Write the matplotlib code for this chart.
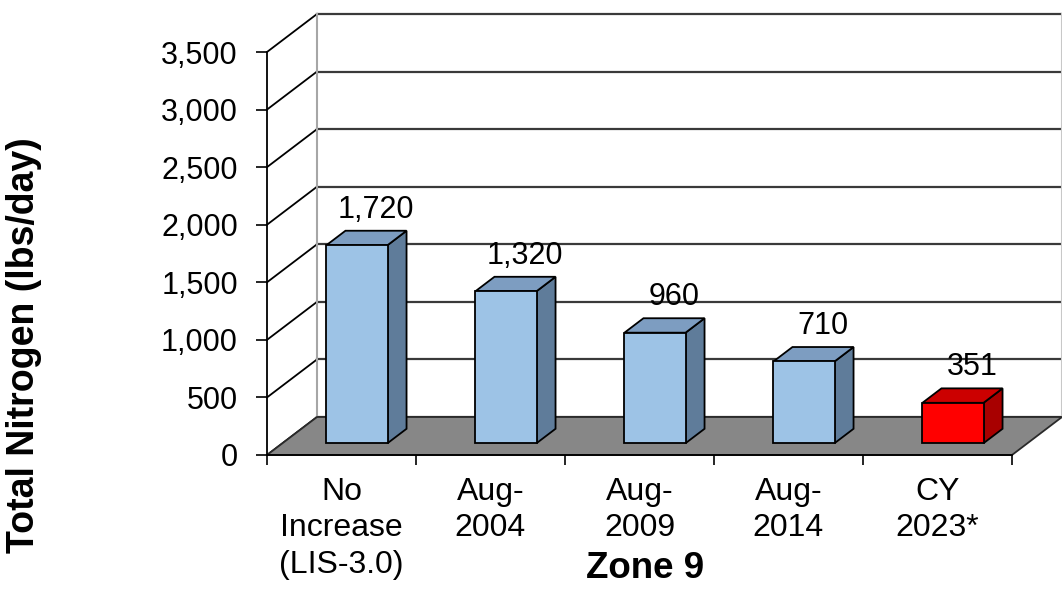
import matplotlib.pyplot as plt
from matplotlib.patches import Polygon

plt.rcParams['font.family'] = ['Liberation Sans', 'DejaVu Sans']

# data
categories = ['No\nIncrease\n(LIS-3.0)', 'Aug-\n2004', 'Aug-\n2009', 'Aug-\n2014', 'CY\n2023*']
values = [1720, 1320, 960, 710, 351]
value_labels = ['1,720', '1,320', '960', '710', '351']
y_ticks = [0, 500, 1000, 1500, 2000, 2500, 3000, 3500]

front_colors = ['#9DC3E6', '#9DC3E6', '#9DC3E6', '#9DC3E6', '#FF0000']
side_colors = ['#5F7C9A', '#5F7C9A', '#5F7C9A', '#5F7C9A', '#A80000']
top_colors = ['#7D9DC1', '#7D9DC1', '#7D9DC1', '#7D9DC1', '#CC0000']

W, H = 1062, 592
fig = plt.figure(figsize=(W / 100, H / 100), dpi=100)
ax = fig.add_axes([267 / W, 137 / H, 745 / W, 403 / H])
ax.set_xlim(0, 5)
ax.set_ylim(0, 3500)

# oblique depth offset (x in category units, y in value units)
DX = 50 / 149
DY = 38 / 403 * 3500
D0, D1 = 0.31, 0.69   # bar front / back depth
HALF = 0.205          # half bar width

# back wall and side wall gridlines
for v in y_ticks:
    ax.plot([DX, 5 + DX], [v + DY, v + DY], color='#3a3a3a', lw=1.6, clip_on=False, zorder=1)
    ax.plot([0, DX], [v, v + DY], color='black', lw=1.3, clip_on=False, zorder=1)
ax.plot([DX, DX], [DY, 3500 + DY], color='#a6a6a6', lw=1.5, clip_on=False, zorder=1)
ax.plot([5 + DX, 5 + DX], [DY, 3500 + DY], color='#c8c8c8', lw=1.5, clip_on=False, zorder=1)

# floor
floor = Polygon([(0, 0), (5, 0), (5 + DX, DY), (DX, DY)], closed=True,
                facecolor='#878787', edgecolor='#2a2a2a', lw=1.3, clip_on=False, zorder=1.5)
ax.add_patch(floor)

# bars
for i, v in enumerate(values):
    xc = i + 0.5
    xl, xr = xc - HALF, xc + HALF
    front = [(xl + D0 * DX, D0 * DY), (xr + D0 * DX, D0 * DY),
             (xr + D0 * DX, v + D0 * DY), (xl + D0 * DX, v + D0 * DY)]
    side = [(xr + D0 * DX, D0 * DY), (xr + D1 * DX, D1 * DY),
            (xr + D1 * DX, v + D1 * DY), (xr + D0 * DX, v + D0 * DY)]
    top = [(xl + D0 * DX, v + D0 * DY), (xr + D0 * DX, v + D0 * DY),
           (xr + D1 * DX, v + D1 * DY), (xl + D1 * DX, v + D1 * DY)]
    for pts, c in [(side, side_colors[i]), (top, top_colors[i]), (front, front_colors[i])]:
        ax.add_patch(Polygon(pts, closed=True, facecolor=c, edgecolor='black',
                             lw=1.3, joinstyle='miter', clip_on=False, zorder=3))
    ax.annotate(value_labels[i], xy=(xc + D1 * DX, v + D1 * DY), xytext=(0, 13),
                textcoords='offset pixels', ha='center', va='baseline',
                fontsize=22, color='black', zorder=5, annotation_clip=False)

# axes
for s in ['top', 'right']:
    ax.spines[s].set_visible(False)
for s in ['left', 'bottom']:
    ax.spines[s].set_linewidth(1.3)
    ax.spines[s].set_zorder(4)
ax.set_yticks(y_ticks, [f'{t:,}' for t in y_ticks])
ax.set_xticks(range(6), [''] * 6)
ax.set_xticks([i + 0.5 for i in range(5)], categories, minor=True)
ax.tick_params(axis='y', direction='out', length=8, width=1.2, pad=13, labelsize=22)
ax.tick_params(axis='x', which='major', direction='out', length=7, width=1.2)
ax.tick_params(axis='x', which='minor', length=0, pad=16, labelsize=23)
for lbl in ax.get_xticklabels(minor=True):
    lbl.set_linespacing(1.27)
ax.set_facecolor('none')

fig.text(24 / W, 1 - 345 / H, 'Total Nitrogen (lbs/day)', rotation=90,
         ha='center', va='center', fontsize=27, fontweight='bold')
fig.text(645 / W, 1 - 569 / H, 'Zone 9', ha='center', va='center',
         fontsize=26.5, fontweight='bold')

fig.savefig('out.png', dpi=100, facecolor='white')
